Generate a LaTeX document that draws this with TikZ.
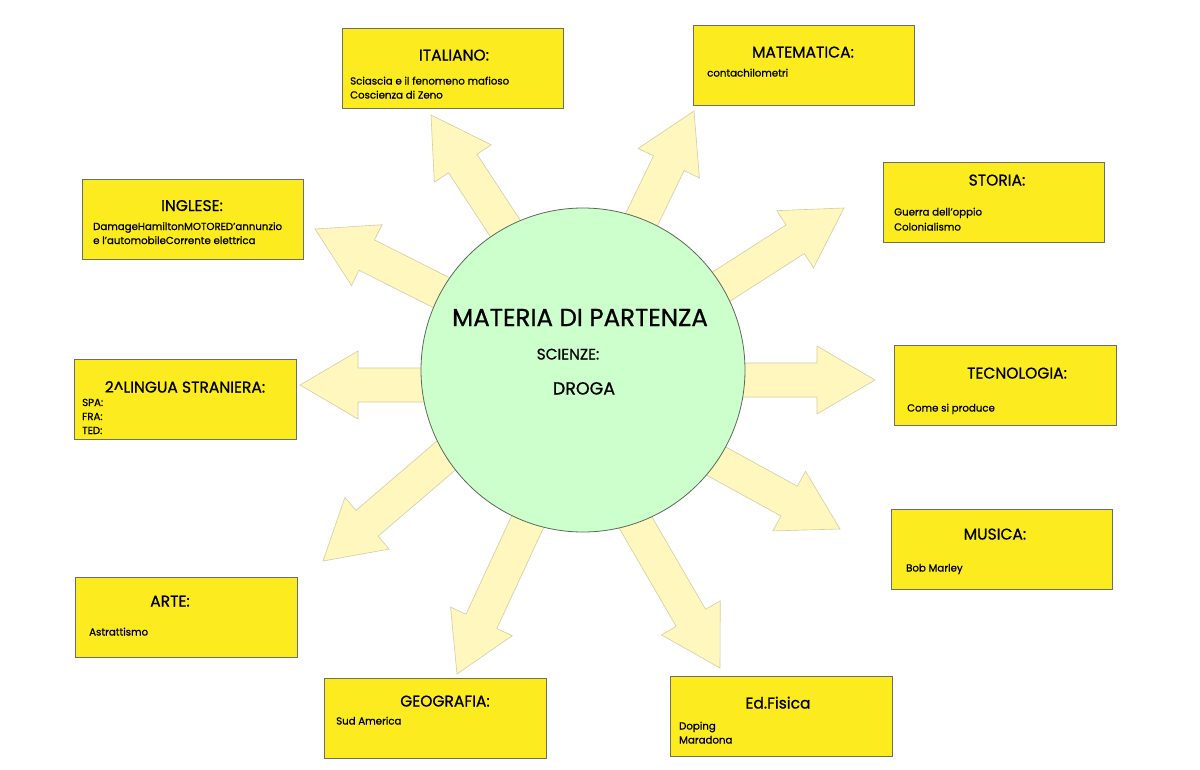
\documentclass[tikz,border=0pt]{standalone}
\usepackage{fontspec}
\setmainfont{Poppins}[FakeBold=0.8]
\usetikzlibrary{calc}
\definecolor{boxy}{RGB}{252,235,30}
\definecolor{boxline}{RGB}{110,110,100}
\definecolor{arrowy}{RGB}{255,247,190}
\definecolor{arrowline}{RGB}{210,205,165}
\definecolor{circg}{RGB}{204,255,204}
\definecolor{circline}{RGB}{90,105,90}
\tikzset{
  subjbox/.style={draw=boxline, line width=1pt, fill=boxy, anchor=north west,
    inner sep=0pt, minimum width=221pt, minimum height=80pt},
  ttl/.style={font=\fontsize{15.5}{17}\selectfont, inner sep=0pt, anchor=base},
  bodytxt/.style={font=\fontsize{10.2}{12}\selectfont, inner sep=0pt, anchor=base west},
  blockar/.style={fill=arrowy, draw=arrowline, line width=0.6pt, line join=miter},
}
\newcommand\blockarr[2]{%
  \coordinate (#2h) at ($(#2)!58pt!(#1)$);
  \draw[blockar] (#2) -- ($(#2h)!34pt!90:(#1)$) -- ($(#2h)!17pt!90:(#1)$)
    -- ($(#1)!17pt!-90:(#2)$) -- ($(#1)!17pt!90:(#2)$)
    -- ($(#2h)!17pt!-90:(#1)$) -- ($(#2h)!34pt!-90:(#1)$) -- cycle;
}
\begin{document}
\begin{tikzpicture}[x=1pt,y=-1pt]
\fill[white] (0,0) rectangle (1200,769);
\useasboundingbox (0,0) rectangle (1200,769);

% arrow tails and tips
\coordinate (sIta) at (598,370);  \coordinate (tIta) at (431,115);
\coordinate (sMat) at (569,370);  \coordinate (tMat) at (694,111);
\coordinate (sSto) at (591,370);  \coordinate (tSto) at (844,208);
\coordinate (sTec) at (583,380);  \coordinate (tTec) at (875,380);
\coordinate (sMus) at (583,388);  \coordinate (tMus) at (840,529);
\coordinate (sEdf) at (547,370);  \coordinate (tEdf) at (720,668);
\coordinate (sGeo) at (598,370);  \coordinate (tGeo) at (457,674);
\coordinate (sArt) at (546,370);  \coordinate (tArt) at (323,561);
\coordinate (sLin) at (583,385);  \coordinate (tLin) at (300,385);
\coordinate (sIng) at (583,364);  \coordinate (tIng) at (315,229);

\blockarr{sIta}{tIta}
\blockarr{sMat}{tMat}
\blockarr{sSto}{tSto}
\blockarr{sTec}{tTec}
\blockarr{sMus}{tMus}
\blockarr{sEdf}{tEdf}
\blockarr{sGeo}{tGeo}
\blockarr{sArt}{tArt}
\blockarr{sLin}{tLin}
\blockarr{sIng}{tIng}

% central circle
\node[circle, fill=circg, draw=circline, line width=0.8pt, minimum size=324pt, inner sep=0pt] (ctr) at (583,370) {};
\node[inner sep=0pt, anchor=base, font=\fontsize{24.5}{27}\selectfont] (mat) at (580,326) {MATERIA DI PARTENZA};
\node[inner sep=0pt, anchor=base, font=\fontsize{15.3}{17}\selectfont] (sci) at (568,359.5) {SCIENZE:};
\node[inner sep=0pt, anchor=base, font=\fontsize{17.5}{19}\selectfont] (dro) at (584,394.5) {DROGA};

% subject boxes
\node[subjbox] (bIta) at (342,28) {};
\node[ttl] (hIta) at (454,60.5) {ITALIANO:};
\node[bodytxt] (ita1) at (350,84.5) {Sciascia e il fenomeno mafioso};
\node[bodytxt] (ita2) at (350,98.5) {Coscienza di Zeno};

\node[subjbox] (bMat) at (693,25) {};
\node[ttl] (hMat) at (803,57.5) {MATEMATICA:};
\node[bodytxt] (mat1) at (707,76.5) {contachilometri};

\node[subjbox] (bSto) at (883,162) {};
\node[ttl] (hSto) at (997,185.5) {STORIA:};
\node[bodytxt] (sto1) at (894,215.5) {Guerra dell'oppio};
\node[bodytxt] (sto2) at (894,230.5) {Colonialismo};

\node[subjbox, minimum width=222pt] (bTec) at (894,345) {};
\node[ttl] (hTec) at (1017,378.5) {TECNOLOGIA:};
\node[bodytxt] (tec1) at (907,411.5) {Come si produce};

\node[subjbox] (bMus) at (891,509) {};
\node[ttl] (hMus) at (995,539.5) {MUSICA:};
\node[bodytxt] (mus1) at (906,571.5) {Bob Marley};

\node[subjbox, minimum width=222pt] (bEdf) at (670,676) {};
\node[ttl] (hEdf) at (778,708.5) {Ed.Fisica};
\node[bodytxt] (edf1) at (679,729.5) {Doping};
\node[bodytxt] (edf2) at (679,743.5) {Maradona};

\node[subjbox, minimum width=222pt] (bGeo) at (324,678) {};
\node[ttl] (hGeo) at (445,706.5) {GEOGRAFIA:};
\node[bodytxt] (geo1) at (336,724.5) {Sud America};

\node[subjbox, minimum width=222pt] (bArt) at (75,577) {};
\node[ttl] (hArt) at (170,606.5) {ARTE:};
\node[bodytxt] (art1) at (89,635.5) {Astrattismo};

\node[subjbox, minimum width=222pt] (bLin) at (74,359) {};
\node[ttl] (hLin) at (185,392.5) {2\textasciicircum LINGUA STRANIERA:};
\node[bodytxt] (lin1) at (82,406) {SPA:};
\node[bodytxt] (lin2) at (82,420) {FRA:};
\node[bodytxt] (lin3) at (82,434) {TED:};

\node[subjbox] (bIng) at (82,179) {};
\node[ttl] (hIng) at (192,211) {INGLESE:};
\node[bodytxt] (ing1) at (93,230) {DamageHamiltonMOTORED'annunzio};
\node[bodytxt] (ing2) at (93,244) {e l'automobileCorrente elettrica};
\end{tikzpicture}
\end{document}
